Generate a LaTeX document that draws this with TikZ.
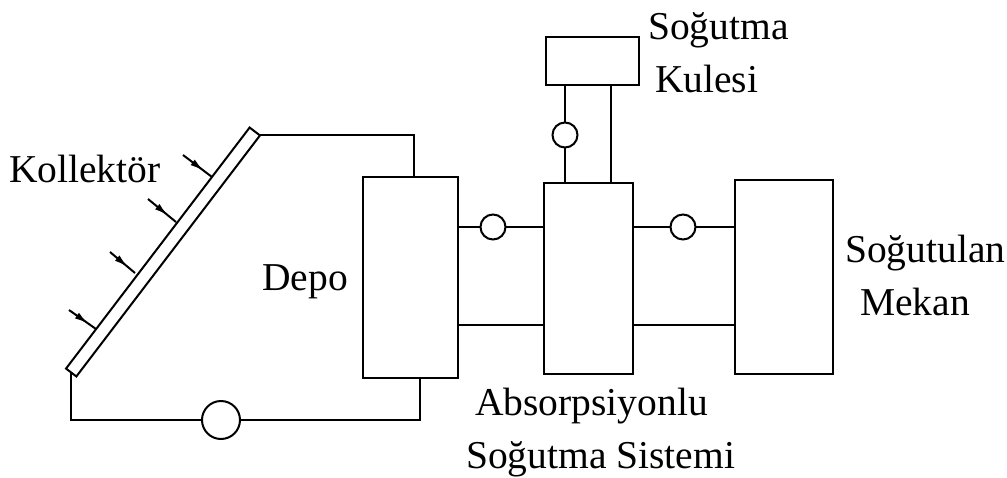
\documentclass[tikz,border=0pt]{standalone}
\usepackage{fontspec}
\setmainfont{Liberation Serif}
\usetikzlibrary{arrows.meta,decorations.markings}
\definecolor{figureline}{RGB}{0,0,0}

\begin{document}
\begin{tikzpicture}[
    x=1pt, y=-1pt,
    font=\fontsize{39.5}{53}\selectfont,
    unit/.style={draw=figureline, fill=white, line width=2pt, minimum width=#1, inner sep=0pt, outer sep=0pt},
    pump/.style={draw=figureline, fill=white, circle, line width=2pt, minimum size=#1, inner sep=0pt, outer sep=0pt},
    pipe/.style={draw=figureline, line width=2pt},
    ray/.style={draw=figureline, line width=2pt, decoration={markings, mark=at position 0.72 with {\arrow{Latex[length=14pt,width=7pt]}}}, postaction={decorate}},
    caption/.style={inner sep=0pt, align=left}
  ]
    \useasboundingbox (0,0) rectangle (1007,477);
    \node[unit=95pt, minimum height=201pt] (depo) at (410.5,277.5) {};
    \node[unit=89pt, minimum height=191pt] (absorber) at (588.5,278.5) {};
    \node[unit=98pt, minimum height=194pt] (room) at (784,277) {};
    \node[unit=93pt, minimum height=48pt] (tower) at (592.5,61) {};
    \node[unit=303pt, minimum height=13pt, rotate=52.7] (collector) at (163,252) {};
    \coordinate (coltop) at (260,135);
    \coordinate (colbot) at (71,372);
    \coordinate (depotop) at (414,177);
    \coordinate (depobot) at (420,378);
    \coordinate (towerl) at (565,85);
    \coordinate (towerr) at (611,85);
    \coordinate (absl) at (565,183);
    \coordinate (absr) at (611,183);
    \coordinate (da1) at (458,227);
    \coordinate (da2) at (544,227);
    \coordinate (dc1) at (458,325);
    \coordinate (dc2) at (544,325);
    \coordinate (ar1) at (633,227);
    \coordinate (ar2) at (735,227);
    \coordinate (ac1) at (633,325);
    \coordinate (ac2) at (735,325);
    \draw[pipe] (coltop) -- (414,135) -- (depotop);
    \draw[pipe] (colbot) -- (71,420) -- (420,420) -- (depobot);
    \draw[pipe] (towerl) -- (absl);
    \draw[pipe] (towerr) -- (absr);
    \draw[pipe] (da1) -- (da2);
    \draw[pipe] (dc1) -- (dc2);
    \draw[pipe] (ar1) -- (ar2);
    \draw[pipe] (ac1) -- (ac2);
    \node[pump=38pt] (pump1) at (221,420) {};
    \node[pump=25pt] (pump2) at (493,227) {};
    \node[pump=25pt] (pump3) at (683,227) {};
    \node[pump=25pt] (pump4) at (565,135) {};
    \coordinate (ray1a) at (183,155);
    \coordinate (ray1b) at (212,177);
    \coordinate (ray2a) at (148,199);
    \coordinate (ray2b) at (176,222);
    \coordinate (ray3a) at (110,252);
    \coordinate (ray3b) at (135,273);
    \coordinate (ray4a) at (69,310);
    \coordinate (ray4b) at (96,329);
    \draw[ray] (ray1a) -- (ray1b);
    \draw[ray] (ray2a) -- (ray2b);
    \draw[ray] (ray3a) -- (ray3b);
    \draw[ray] (ray4a) -- (ray4b);
    \node[caption, anchor=west] (collabel) at (9,169) {Kollektör};
    \node[caption, anchor=west] (depolabel) at (262,282) {Depo};
    \node[caption, anchor=north west] (towerlabel) at (648,12) {Soğutma\\\hspace*{7pt}Kulesi};
    \node[caption, anchor=north west] (roomlabel) at (845,235) {Soğutulan\\\hspace*{15pt}Mekan};
    \node[caption, anchor=north west] (abslabel) at (466,388) {\hspace*{9pt}Absorpsiyonlu\\Soğutma Sistemi};
  \end{tikzpicture}
\end{document}
